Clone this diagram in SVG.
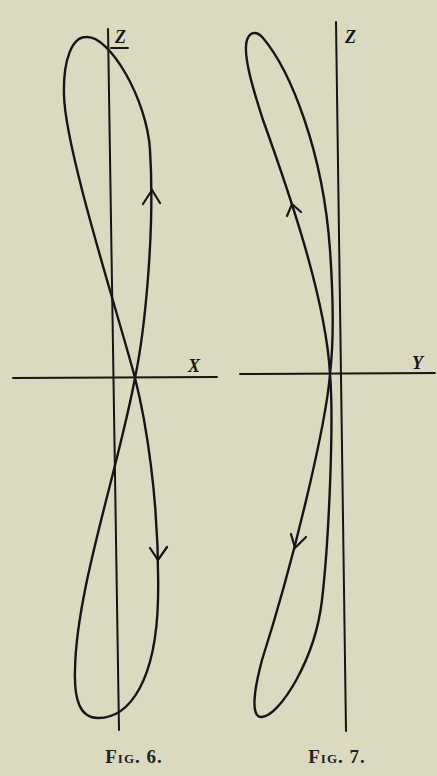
<svg xmlns="http://www.w3.org/2000/svg" width="437" height="776" viewBox="0 0 437 776">
<style>
.bg{fill:#dbdac0}
.ax{stroke:#161616;stroke-width:2;fill:none;stroke-linecap:round}
.cv{stroke:#161616;stroke-width:2.4;fill:none;stroke-linejoin:round}
.ar{stroke:#161616;stroke-width:2.2;fill:none;stroke-linecap:round;stroke-linejoin:miter}
.lbl{font-family:"Liberation Serif","DejaVu Serif",serif;font-style:italic;font-weight:bold;font-size:18px;fill:#161616}
.cap{font-family:"Liberation Serif","DejaVu Serif",serif;font-weight:bold;font-size:19px;font-variant:small-caps;letter-spacing:1px;fill:#222}
</style>
<rect class="bg" x="0" y="0" width="437" height="776"/>
<g id="fig6">
  <g id="fig6-axes">
    <line class="ax" x1="108" y1="29" x2="119" y2="730"/>
    <line class="ax" x1="13" y1="378" x2="217" y2="377"/>
    <line class="ax" x1="111" y1="48" x2="128" y2="48"/>
    <text class="lbl" x="115" y="43">Z</text>
    <text class="lbl" x="188" y="372">X</text>
  </g>
  <g id="fig6-curve">
    <path class="cv" d="M135,378 C145,330 155,230 150,150 C147,100 110,35 86,37 C72,37 63,60 64,95 C65,150 120,320 135,378 C145,417 160,500 158,600 C156,680 130,718 98,718 C80,718 74,700 75,670 C76,590 118,470 135,378 Z"/>
    <path class="ar" d="M143,204 L152,190 L160,203"/>
    <path class="ar" d="M150,548 L158,560 L167,547"/>
  </g>
  <text class="cap" x="134" y="763" text-anchor="middle">Fig. 6.</text>
</g>
<g id="fig7">
  <g id="fig7-axes">
    <line class="ax" x1="336" y1="22" x2="346" y2="731"/>
    <line class="ax" x1="240" y1="374" x2="435" y2="373"/>
    <text class="lbl" x="345" y="43">Z</text>
    <text class="lbl" x="412" y="369">Y</text>
  </g>
  <g id="fig7-curve">
    <path class="cv" d="M330,374 C326,300 290,195 263,120 C255,95 242,55 247,40 C250,31 257,31 263,38 C290,70 323,150 330,250 C333,293 334,340 330,374 C326,425 294,560 262,660 C254,690 250,718 262,717 C280,715 315,660 322,600 C329,540 334,420 330,374 Z"/>
    <path class="ar" d="M287,216 L292,204 L301,212"/>
    <path class="ar" d="M291,534 L295,548 L306,537"/>
  </g>
  <text class="cap" x="337" y="763" text-anchor="middle">Fig. 7.</text>
</g>
</svg>
